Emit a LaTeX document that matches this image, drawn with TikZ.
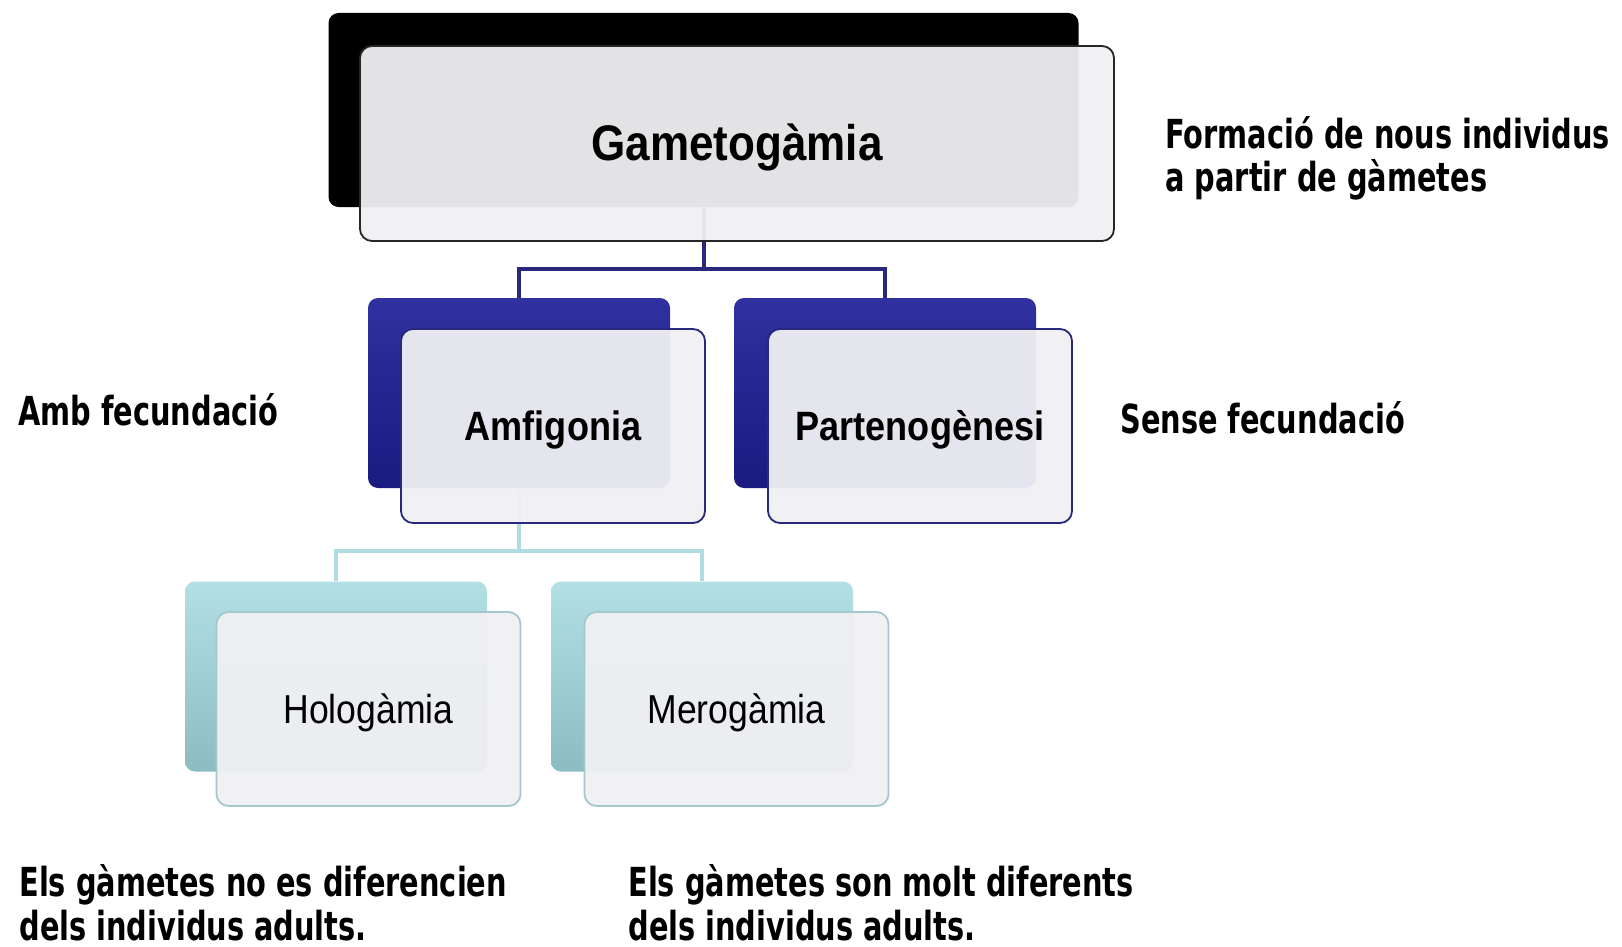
\documentclass[tikz,border=0pt]{standalone}
\usepackage{fontspec}
\newfontfamily\boxfont[FakeStretch=0.88]{Liberation Sans}
\newfontfamily\notefont[FakeStretch=0.72]{DejaVu Sans}
\definecolor{navytop}{RGB}{48,48,160}
\definecolor{navybot}{RGB}{26,26,128}
\definecolor{navyline}{RGB}{40,40,125}
\definecolor{tealtop}{RGB}{178,224,228}
\definecolor{tealbot}{RGB}{140,188,194}
\definecolor{tealline}{RGB}{176,220,224}
\definecolor{frontfill}{RGB}{240,240,243}

\begin{document}
\begin{tikzpicture}[
  x=0.5pt, y=-0.5pt,
  back/.style={rectangle, rounded corners=5pt, inner sep=0pt,
               minimum width=151pt, minimum height=95pt},
  front/.style={rectangle, rounded corners=6pt, inner sep=0pt,
                minimum width=152pt, minimum height=97pt, line width=0.9pt,
                fill=frontfill, fill opacity=0.95, text opacity=1, align=center},
  toplbl/.style={font=\boxfont\bfseries\fontsize{25}{29}\selectfont,
                 text height=22pt, text depth=5pt},
  boxlbl/.style={font=\boxfont\bfseries\fontsize{20.5}{24}\selectfont,
                 text height=18.5pt, text depth=4.2pt},
  leaflbl/.style={font=\boxfont\fontsize{20.2}{24}\selectfont,
                  text height=18.2pt, text depth=4.1pt},
  link/.style={line width=2pt},
  note/.style={font=\notefont\bfseries\fontsize{20}{21.8}\selectfont,
               inner sep=0pt, align=left}
]
\useasboundingbox (0,0) rectangle (1622,947);

% ---- back boxes ----
\node[back, fill=black, minimum width=375pt, minimum height=97pt] (gamB) at (703.5,110) {};
\node[back, top color=navytop, bottom color=navybot] (amfB) at (519,393) {};
\node[back, top color=navytop, bottom color=navybot] (parB) at (885,393) {};
\node[back, top color=tealtop, bottom color=tealbot] (holB) at (336,676.5) {};
\node[back, top color=tealtop, bottom color=tealbot] (merB) at (702,676.5) {};

% ---- connectors ----
\coordinate (j1) at (0,269);
\coordinate (j2) at (0,551);
\draw[link, navyline] (gamB.south) -- (gamB.south |- j1) -| (amfB.north);
\draw[link, navyline] (gamB.south |- j1) -| (parB.north);
\draw[link, tealline] (amfB.south) -- (amfB.south |- j2) -| (holB.north);
\draw[link, tealline] (amfB.south |- j2) -| (merB.north);

% ---- front boxes ----
\node[front, toplbl, draw=black!85, minimum width=377pt, minimum height=97.5pt]
  (gamF) at (737,143.5) {Gametogàmia};
\node[front, boxlbl, draw=navyline] (amfF) at (553,426) {Amfigonia};
\node[front, boxlbl, draw=navyline] (parF) at (920,426) {Partenogènesi};
\node[front, leaflbl, draw=tealbot!80] (holF) at (368.5,709) {Hologàmia};
\node[front, leaflbl, draw=tealbot!80] (merF) at (736.5,709) {Merogàmia};

% ---- side notes ----
\node[note, anchor=north west] (formacio) at (1165,116)
  {Formació de nous individus\\a partir de gàmetes};
\node[note, anchor=base west] (amb) at (18,425) {Amb fecundació};
\node[note, anchor=base west] (sense) at (1120,433) {Sense fecundació};
\node[note, anchor=north west] (holnote) at (19,864)
  {Els gàmetes no es diferencien\\dels individus adults.};
\node[note, anchor=north west] (mernote) at (628,864)
  {Els gàmetes son molt diferents\\dels individus adults.};

\end{tikzpicture}
\end{document}
